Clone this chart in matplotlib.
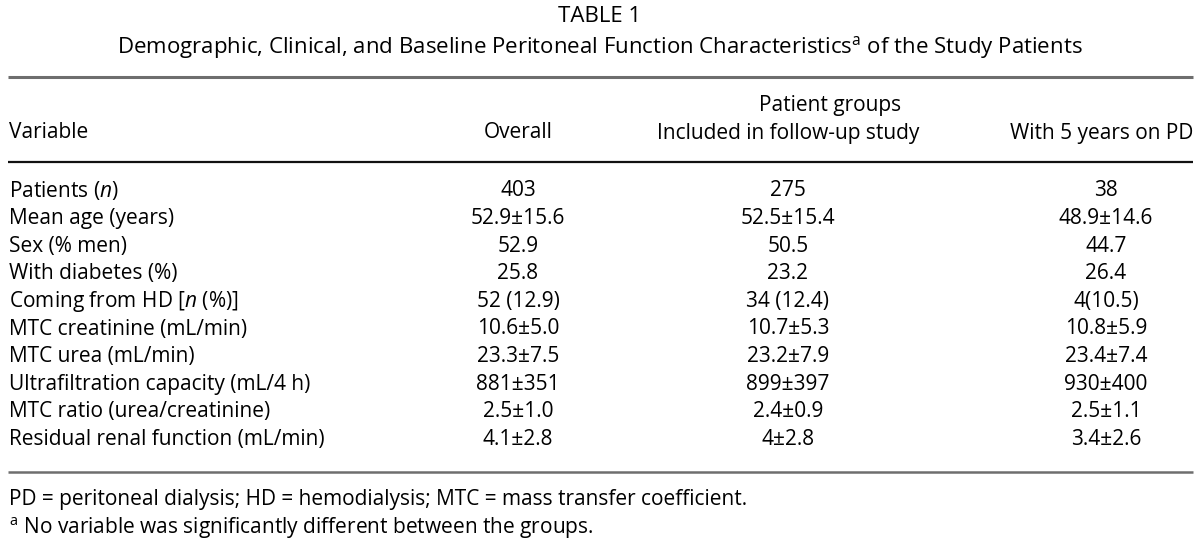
import matplotlib
matplotlib.use("Agg")
import matplotlib.pyplot as plt

plt.rcParams['font.family'] = ["Open Sans", "DejaVu Sans"]
plt.rcParams['mathtext.fontset'] = 'custom'
plt.rcParams['mathtext.rm'] = 'Open Sans'
plt.rcParams['mathtext.it'] = 'Open Sans:italic'

title = "TABLE 1"
subtitle = "Demographic, Clinical, and Baseline Peritoneal Function Characteristics$^{\\mathrm{a}}$ of the Study Patients"
group_header = "Patient groups"
col_headers = ["Variable", "Overall", "Included in follow-up study", "With 5 years on PD"]
variables = ["Patients ($\\it{n}$)", "Mean age (years)", "Sex (% men)", "With diabetes (%)",
             "Coming from HD [$\\it{n}$ (%)]", "MTC creatinine (mL/min)", "MTC urea (mL/min)",
             "Ultrafiltration capacity (mL/4 h)", "MTC ratio (urea/creatinine)",
             "Residual renal function (mL/min)"]
overall = ["403", "52.9±15.6", "52.9", "25.8", "52 (12.9)", "10.6±5.0", "23.3±7.5", "881±351", "2.5±1.0", "4.1±2.8"]
included = ["275", "52.5±15.4", "50.5", "23.2", "34 (12.4)", "10.7±5.3", "23.2±7.9", "899±397", "2.4±0.9", "4±2.8"]
five_years = ["38", "48.9±14.6", "44.7", "26.4", "4(10.5)", "10.8±5.9", "23.4±7.4", "930±400", "2.5±1.1", "3.4±2.6"]
footnotes = ["PD = peritoneal dialysis; HD = hemodialysis; MTC = mass transfer coefficient.",
             "$^{\\mathrm{a}}$ No variable was significantly different between the groups."]

fig = plt.figure(figsize=(12, 5.46), dpi=100)
ax = fig.add_axes([0, 0, 1, 1])
ax.set_xlim(0, 1200)
ax.set_ylim(546, 0)
ax.axis("off")

fs = 15
tfs = 16
c1, c2, c3 = 518, 788, 1106
ax.text(600, 17, title, ha="center", va="center", fontsize=tfs)
ax.text(600, 48, subtitle, ha="center", va="center", fontsize=tfs)
ax.plot([8, 1193], [77, 77], color="#6e6e6e", lw=2.2, solid_capstyle="butt")
ax.text(830, 105, group_header, ha="center", va="center", fontsize=fs)
ax.text(9, 133, col_headers[0], ha="left", va="center", fontsize=fs)
ax.text(c1, 133, col_headers[1], ha="center", va="center", fontsize=fs)
ax.text(c2, 133, col_headers[2], ha="center", va="center", fontsize=fs)
ax.text(1193, 133, col_headers[3], ha="right", va="center", fontsize=fs)
ax.plot([8, 1193], [162, 162], color="#111111", lw=1.6, solid_capstyle="butt")

y0, dy = 191, 27.6
for i, (v, a, b, c) in enumerate(zip(variables, overall, included, five_years)):
    y = y0 + i * dy
    ax.text(9, y, v, ha="left", va="center", fontsize=fs)
    ax.text(c1, y, a, ha="center", va="center", fontsize=fs)
    ax.text(c2, y, b, ha="center", va="center", fontsize=fs)
    ax.text(c3, y, c, ha="center", va="center", fontsize=fs)

ax.plot([8, 1193], [472, 472], color="#6e6e6e", lw=1.8, solid_capstyle="butt")
ax.text(9, 500, footnotes[0], ha="left", va="center", fontsize=fs)
ax.text(9, 528, footnotes[1], ha="left", va="center", fontsize=fs)

fig.savefig("out.png", dpi=100)
